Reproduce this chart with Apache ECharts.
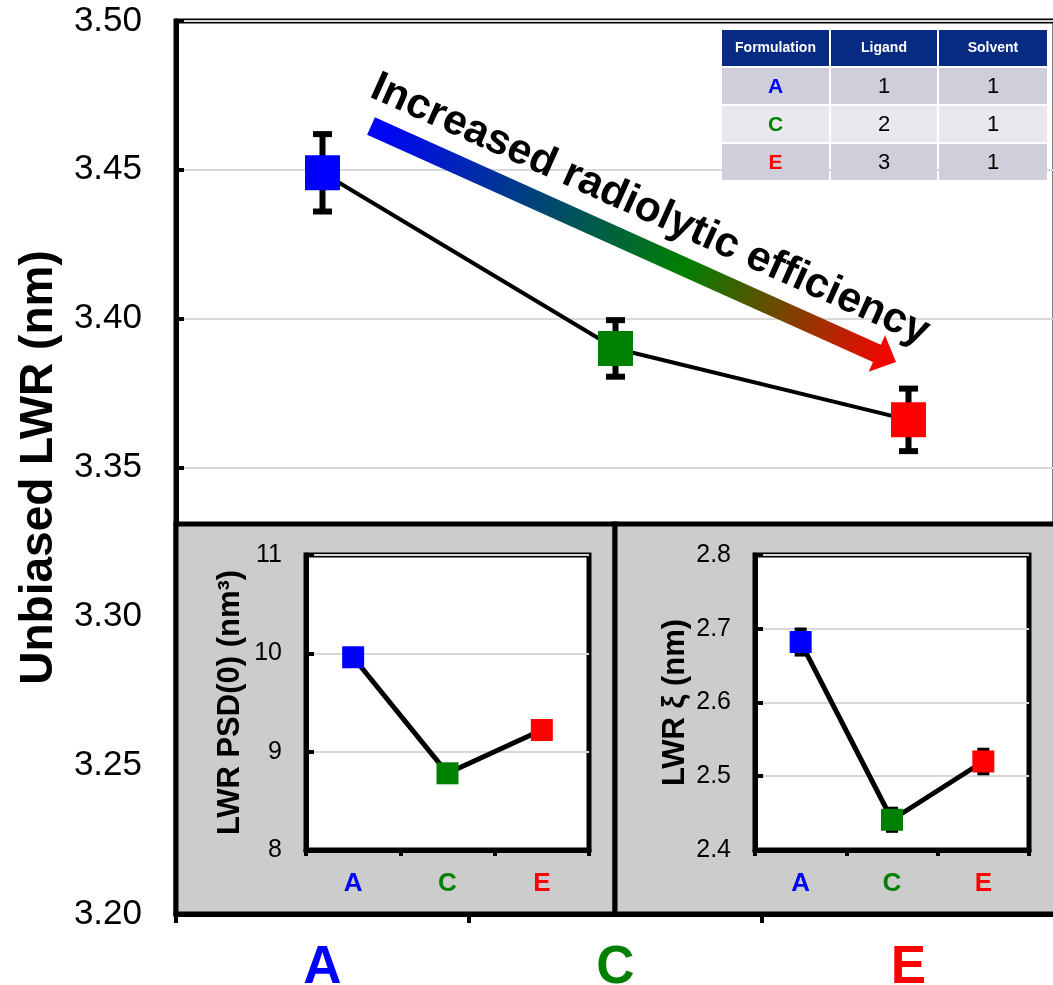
<!DOCTYPE html>
<html><head><meta charset="utf-8">
<script src="https://cdn.jsdelivr.net/npm/echarts/dist/echarts.min.js"></script>
<style>html,body{margin:0;padding:0;background:#fff}#c{width:1053px;height:985px}</style>
</head><body><div id="c"></div>
<script>
// ---------------- data ----------------
const categories = ['A', 'C', 'E'];
const lwrValues = [3.449, 3.390, 3.366];
const lwrErrors = [0.013, 0.0095, 0.0105];
const psdValues = [9.96, 8.78, 9.22];
const psdErrors = [0.06, 0.05, 0.05];
const xiValues = [2.682, 2.441, 2.520];
const xiErrors = [0.017, 0.015, 0.016];
const lwrAxis = { min: 3.20, max: 3.50, interval: 0.05 };
const psdAxis = { min: 8, max: 11, interval: 1 };
const xiAxis = { min: 2.4, max: 2.8, interval: 0.1 };
const tableHeaders = ['Formulation', 'Ligand', 'Solvent'];
const tableFormulation = ['A', 'C', 'E'];
const tableLigand = ['1', '2', '3'];
const tableSolvent = ['1', '1', '1'];
const arrowText = 'Increased radiolytic efficiency';
const mainYName = 'Unbiased LWR (nm)';
const psdYName = 'LWR PSD(0) (nm³)';
const xiYName = 'LWR ξ (nm)';

// ---------------- style ----------------
const FONT = 'Liberation Sans, Arial, Helvetica, sans-serif';
const catColors = ['#0000ff', '#008000', '#ff0000'];
const colorOf = v => catColors[categories.indexOf(v)];

function errorBars(xi, yi, values, errors, capW, lw, z) {
  return {
    type: 'custom', xAxisIndex: xi, yAxisIndex: yi, z: z, silent: true, animation: false,
    data: values.map((v, i) => [i, v - errors[i], v + errors[i]]),
    encode: { x: 0, y: [1, 2] },
    renderItem: function (params, api) {
      const x = api.value(0);
      const lo = api.coord([x, api.value(1)]);
      const hi = api.coord([x, api.value(2)]);
      const st = { stroke: '#000', lineWidth: lw };
      return {
        type: 'group', children: [
          { type: 'line', shape: { x1: lo[0], y1: lo[1], x2: hi[0], y2: hi[1] }, style: st },
          { type: 'line', shape: { x1: lo[0] - capW / 2, y1: lo[1], x2: lo[0] + capW / 2, y2: lo[1] }, style: st },
          { type: 'line', shape: { x1: hi[0] - capW / 2, y1: hi[1], x2: hi[0] + capW / 2, y2: hi[1] }, style: st }
        ]
      };
    }
  };
}
function lineSeries(xi, yi, values, size, lw, z) {
  return {
    type: 'line', xAxisIndex: xi, yAxisIndex: yi, z: z, animation: false, silent: true,
    data: values.map((v, i) => ({ value: v, itemStyle: { color: catColors[i], borderWidth: 0 } })),
    symbol: 'rect', symbolSize: size,
    lineStyle: { color: '#000', width: lw },
    itemStyle: { borderWidth: 0 },
    emphasis: { disabled: true }
  };
}
function catAxis(gi, fs, margin, tickLen, lineW, z) {
  return {
    gridIndex: gi, type: 'category', data: categories, boundaryGap: true, z: z,
    axisLine: { show: true, lineStyle: { color: '#000', width: lineW } },
    axisTick: { show: true, inside: false, length: tickLen, lineStyle: { color: '#000', width: 4 } },
    axisLabel: { margin: margin, fontSize: fs, fontWeight: 'bold', fontFamily: FONT, color: colorOf },
    splitLine: { show: false }
  };
}
function valAxis(gi, ax, digits, fs, margin, name, nameFs, nameGap, lineW, z) {
  return {
    gridIndex: gi, type: 'value', min: ax.min, max: ax.max, interval: ax.interval, z: z,
    axisLine: { show: true, lineStyle: { color: '#000', width: lineW } },
    axisTick: { show: true, inside: true, length: 8, lineStyle: { color: '#000', width: 4 } },
    axisLabel: { formatter: v => v.toFixed(digits), fontSize: fs, color: '#000', margin: margin, fontFamily: FONT, showMinLabel: true, showMaxLabel: true },
    splitLine: { show: true, lineStyle: { color: '#d9d9d9', width: 2 } },
    name: name, nameLocation: 'middle', nameGap: nameGap, nameRotate: 90,
    nameTextStyle: { fontSize: nameFs, fontWeight: 'bold', color: '#000', fontFamily: FONT }
  };
}

// ---------------- graphics (layout) ----------------
const graphics = [];
// gray panels behind the insets
graphics.push({ type: 'rect', z: 10, shape: { x: 176, y: 524, width: 439, height: 390 }, style: { fill: '#cccccc', stroke: '#000', lineWidth: 5 } });
graphics.push({ type: 'rect', z: 10, shape: { x: 615, y: 524, width: 445, height: 390 }, style: { fill: '#cccccc', stroke: '#000', lineWidth: 5 } });
// gradient arrow
const aStart = [371, 126], aTip = [896, 362];
const aLen = Math.hypot(aTip[0] - aStart[0], aTip[1] - aStart[1]);
const aAng = Math.atan2(aTip[1] - aStart[1], aTip[0] - aStart[0]);
const bw = 9.5, hw = 20, hl = 21;
graphics.push({
  type: 'polygon', z: 10, x: aStart[0], y: aStart[1], rotation: -aAng,
  shape: { points: [[0, -bw], [aLen - hl, -bw], [aLen - hl, -hw], [aLen, 0], [aLen - hl, hw], [aLen - hl, bw], [0, bw]] },
  style: { fill: { type: 'linear', x: 0, y: 0, x2: 1, y2: 0, colorStops: [{ offset: 0, color: '#0000ff' }, { offset: 0.6, color: '#008000' }, { offset: 1, color: '#ff0000' }] } }
});
graphics.push({
  type: 'text', z: 11, x: 650, y: 210, rotation: -aAng,
  style: { text: arrowText, fontSize: 42.5, fontWeight: 'bold', fontFamily: FONT, fill: '#000', align: 'center', verticalAlign: 'middle', textAlign: 'center', textVerticalAlign: 'middle' }
});
// table
const colX = [722, 831, 939], colW = [107, 106, 108];
const rowY = [30, 68, 106, 144], rowH = 36;
const rowFill = ['#cfcfdb', '#e8e8ee', '#cfcfdb'];
tableHeaders.forEach((h, c) => {
  graphics.push({ type: 'rect', z: 10, shape: { x: colX[c], y: rowY[0], width: colW[c], height: rowH }, style: { fill: '#072a82' } });
  graphics.push({ type: 'text', z: 11, x: colX[c] + colW[c] / 2, y: rowY[0] + rowH / 2, style: { text: h, fontSize: 14, fontWeight: 'bold', fontFamily: FONT, fill: '#fff', align: 'center', verticalAlign: 'middle', textAlign: 'center', textVerticalAlign: 'middle' } });
});
tableFormulation.forEach((f, r) => {
  const cells = [f, tableLigand[r], tableSolvent[r]];
  cells.forEach((t, c) => {
    graphics.push({ type: 'rect', z: 10, shape: { x: colX[c], y: rowY[r + 1], width: colW[c], height: rowH }, style: { fill: rowFill[r] } });
    graphics.push({ type: 'text', z: 11, x: colX[c] + colW[c] / 2, y: rowY[r + 1] + rowH / 2 + 1, style: { text: t, fontSize: c === 0 ? 21 : 22, fontWeight: c === 0 ? 'bold' : 'normal', fontFamily: FONT, fill: c === 0 ? colorOf(f) : '#000', align: 'center', verticalAlign: 'middle', textAlign: 'center', textVerticalAlign: 'middle' } });
  });
});

// ---------------- option ----------------
const option = {
  animation: false,
  backgroundColor: '#ffffff',
  grid: [
    { left: 176, top: 21, width: 879, height: 893, show: true, backgroundColor: '#fff', borderColor: '#000', borderWidth: 5, z: 0, containLabel: false, outerBoundsMode: 'none' },
    { left: 306, top: 555, width: 283, height: 295, show: true, backgroundColor: '#fff', borderColor: '#000', borderWidth: 5, z: 20, containLabel: false, outerBoundsMode: 'none' },
    { left: 755, top: 555, width: 274, height: 295, show: true, backgroundColor: '#fff', borderColor: '#000', borderWidth: 5, z: 20, containLabel: false, outerBoundsMode: 'none' }
  ],
  xAxis: [
    catAxis(0, 53, 28, 9, 5, 0),
    catAxis(1, 26, 21, 6, 5, 21),
    catAxis(2, 26, 21, 6, 5, 21)
  ],
  yAxis: [
    valAxis(0, lwrAxis, 2, 35, 34, mainYName, 46, 114, 5, 0),
    valAxis(1, psdAxis, 0, 25, 24, psdYName, 31, 60, 5, 21),
    valAxis(2, xiAxis, 1, 25, 24, xiYName, 31, 64, 5, 21)
  ],
  series: [
    errorBars(0, 0, lwrValues, lwrErrors, 19, 6, 2),
    lineSeries(0, 0, lwrValues, 35, 4, 3),
    errorBars(1, 1, psdValues, psdErrors, 12, 4, 22),
    lineSeries(1, 1, psdValues, 22, 5, 23),
    errorBars(2, 2, xiValues, xiErrors, 12, 4, 22),
    lineSeries(2, 2, xiValues, 22, 5, 23)
  ],
  graphic: { elements: graphics }
};
const chart = echarts.init(document.getElementById('c'), null, { renderer: 'canvas' });
chart.setOption(option);
</script>
</body></html>
